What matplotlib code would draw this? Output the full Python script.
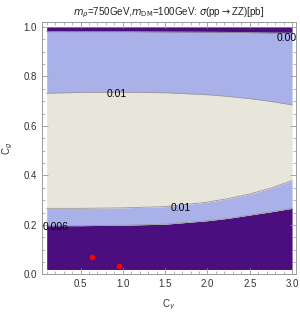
import matplotlib
matplotlib.use("Agg")
import matplotlib.pyplot as plt
import numpy as np

c_gamma = [0.1, 0.5, 1.0, 1.5, 2.0, 2.25, 2.5, 2.75, 3.0]
b_006 = [0.197, 0.197, 0.199, 0.203, 0.217, 0.227, 0.240, 0.253, 0.267]   # purple / lavender
b_01_low = [0.267, 0.267, 0.269, 0.274, 0.292, 0.307, 0.325, 0.349, 0.379]  # lavender / beige
b_01_high = [0.732, 0.735, 0.736, 0.734, 0.726, 0.719, 0.710, 0.699, 0.685]  # beige / lavender
b_008 = [0.981, 0.981, 0.981, 0.980, 0.979, 0.978, 0.977, 0.976, 0.975]   # lavender / purple

pts_x = [0.64, 0.95]
pts_y = [0.072, 0.034]

y_min, y_max = 0.02, 1.0

purple = "#4b0e7e"
lavender = "#aab1e8"
beige = "#e8e5da"
edge = "#9a9a9a"

plt.rcParams['font.family'] = ['Liberation Sans', 'DejaVu Sans']
fig = plt.figure(figsize=(3.0, 3.18), dpi=100)
ax = fig.add_axes([0.139, 0.137, 0.847, 0.794])

x = np.array(c_gamma)
ax.fill_between(x, y_min, b_006, color=purple, lw=0)
ax.fill_between(x, b_006, b_01_low, color=lavender, lw=0)
ax.fill_between(x, b_01_low, b_01_high, color=beige, lw=0)
ax.fill_between(x, b_01_high, b_008, color=lavender, lw=0)
ax.fill_between(x, b_008, y_max, color=purple, lw=0)
for b in (b_006, b_01_low, b_01_high, b_008):
    ax.plot(x, b, color=edge, lw=0.6)

ax.plot(pts_x, pts_y, 'o', color='#ff0000', ms=4, mec='none')

ax.text(0.93, 0.727, "0.01", fontsize=7.5, ha='center', va='center')
ax.text(1.69, 0.269, "0.01", fontsize=7.5, ha='center', va='center')
ax.text(0.2, 0.192, "0.006", fontsize=7.5, ha='center', va='center')
ax.text(2.82, 0.954, "0.008", fontsize=7.5, ha='left', va='center', clip_on=True)

ax.set_xlim(0.041, 3.044)
ax.set_ylim(0.0, 1.02)
ax.set_xticks([0.5, 1.0, 1.5, 2.0, 2.5, 3.0])
ax.set_yticks([0.0, 0.2, 0.4, 0.6, 0.8, 1.0])
ax.set_xticks(np.arange(0.1, 3.01, 0.1), minor=True)
ax.set_yticks(np.arange(0.0, 1.01, 0.05), minor=True)
ax.tick_params(which='both', direction='in', top=True, right=True, color='#999999',
               labelsize=7, labelcolor='#333333')
ax.tick_params(which='major', length=4, width=0.6)
ax.tick_params(which='minor', length=2, width=0.5)
for s in ax.spines.values():
    s.set_color('#999999')
    s.set_linewidth(0.7)

ax.set_xlabel(r"C$_\gamma$", fontsize=7, color='#333333', labelpad=6)
ax.set_ylabel(r"C$_g$", fontsize=7, color='#333333', labelpad=6)
ax.set_title(r"$m_\rho$=750GeV,$m_{\rm DM}$=100GeV: $\sigma$(pp$\rightarrow$ZZ)[pb]",
             fontsize=7, color='#222222', pad=5)

fig.savefig("out.png", dpi=100)
